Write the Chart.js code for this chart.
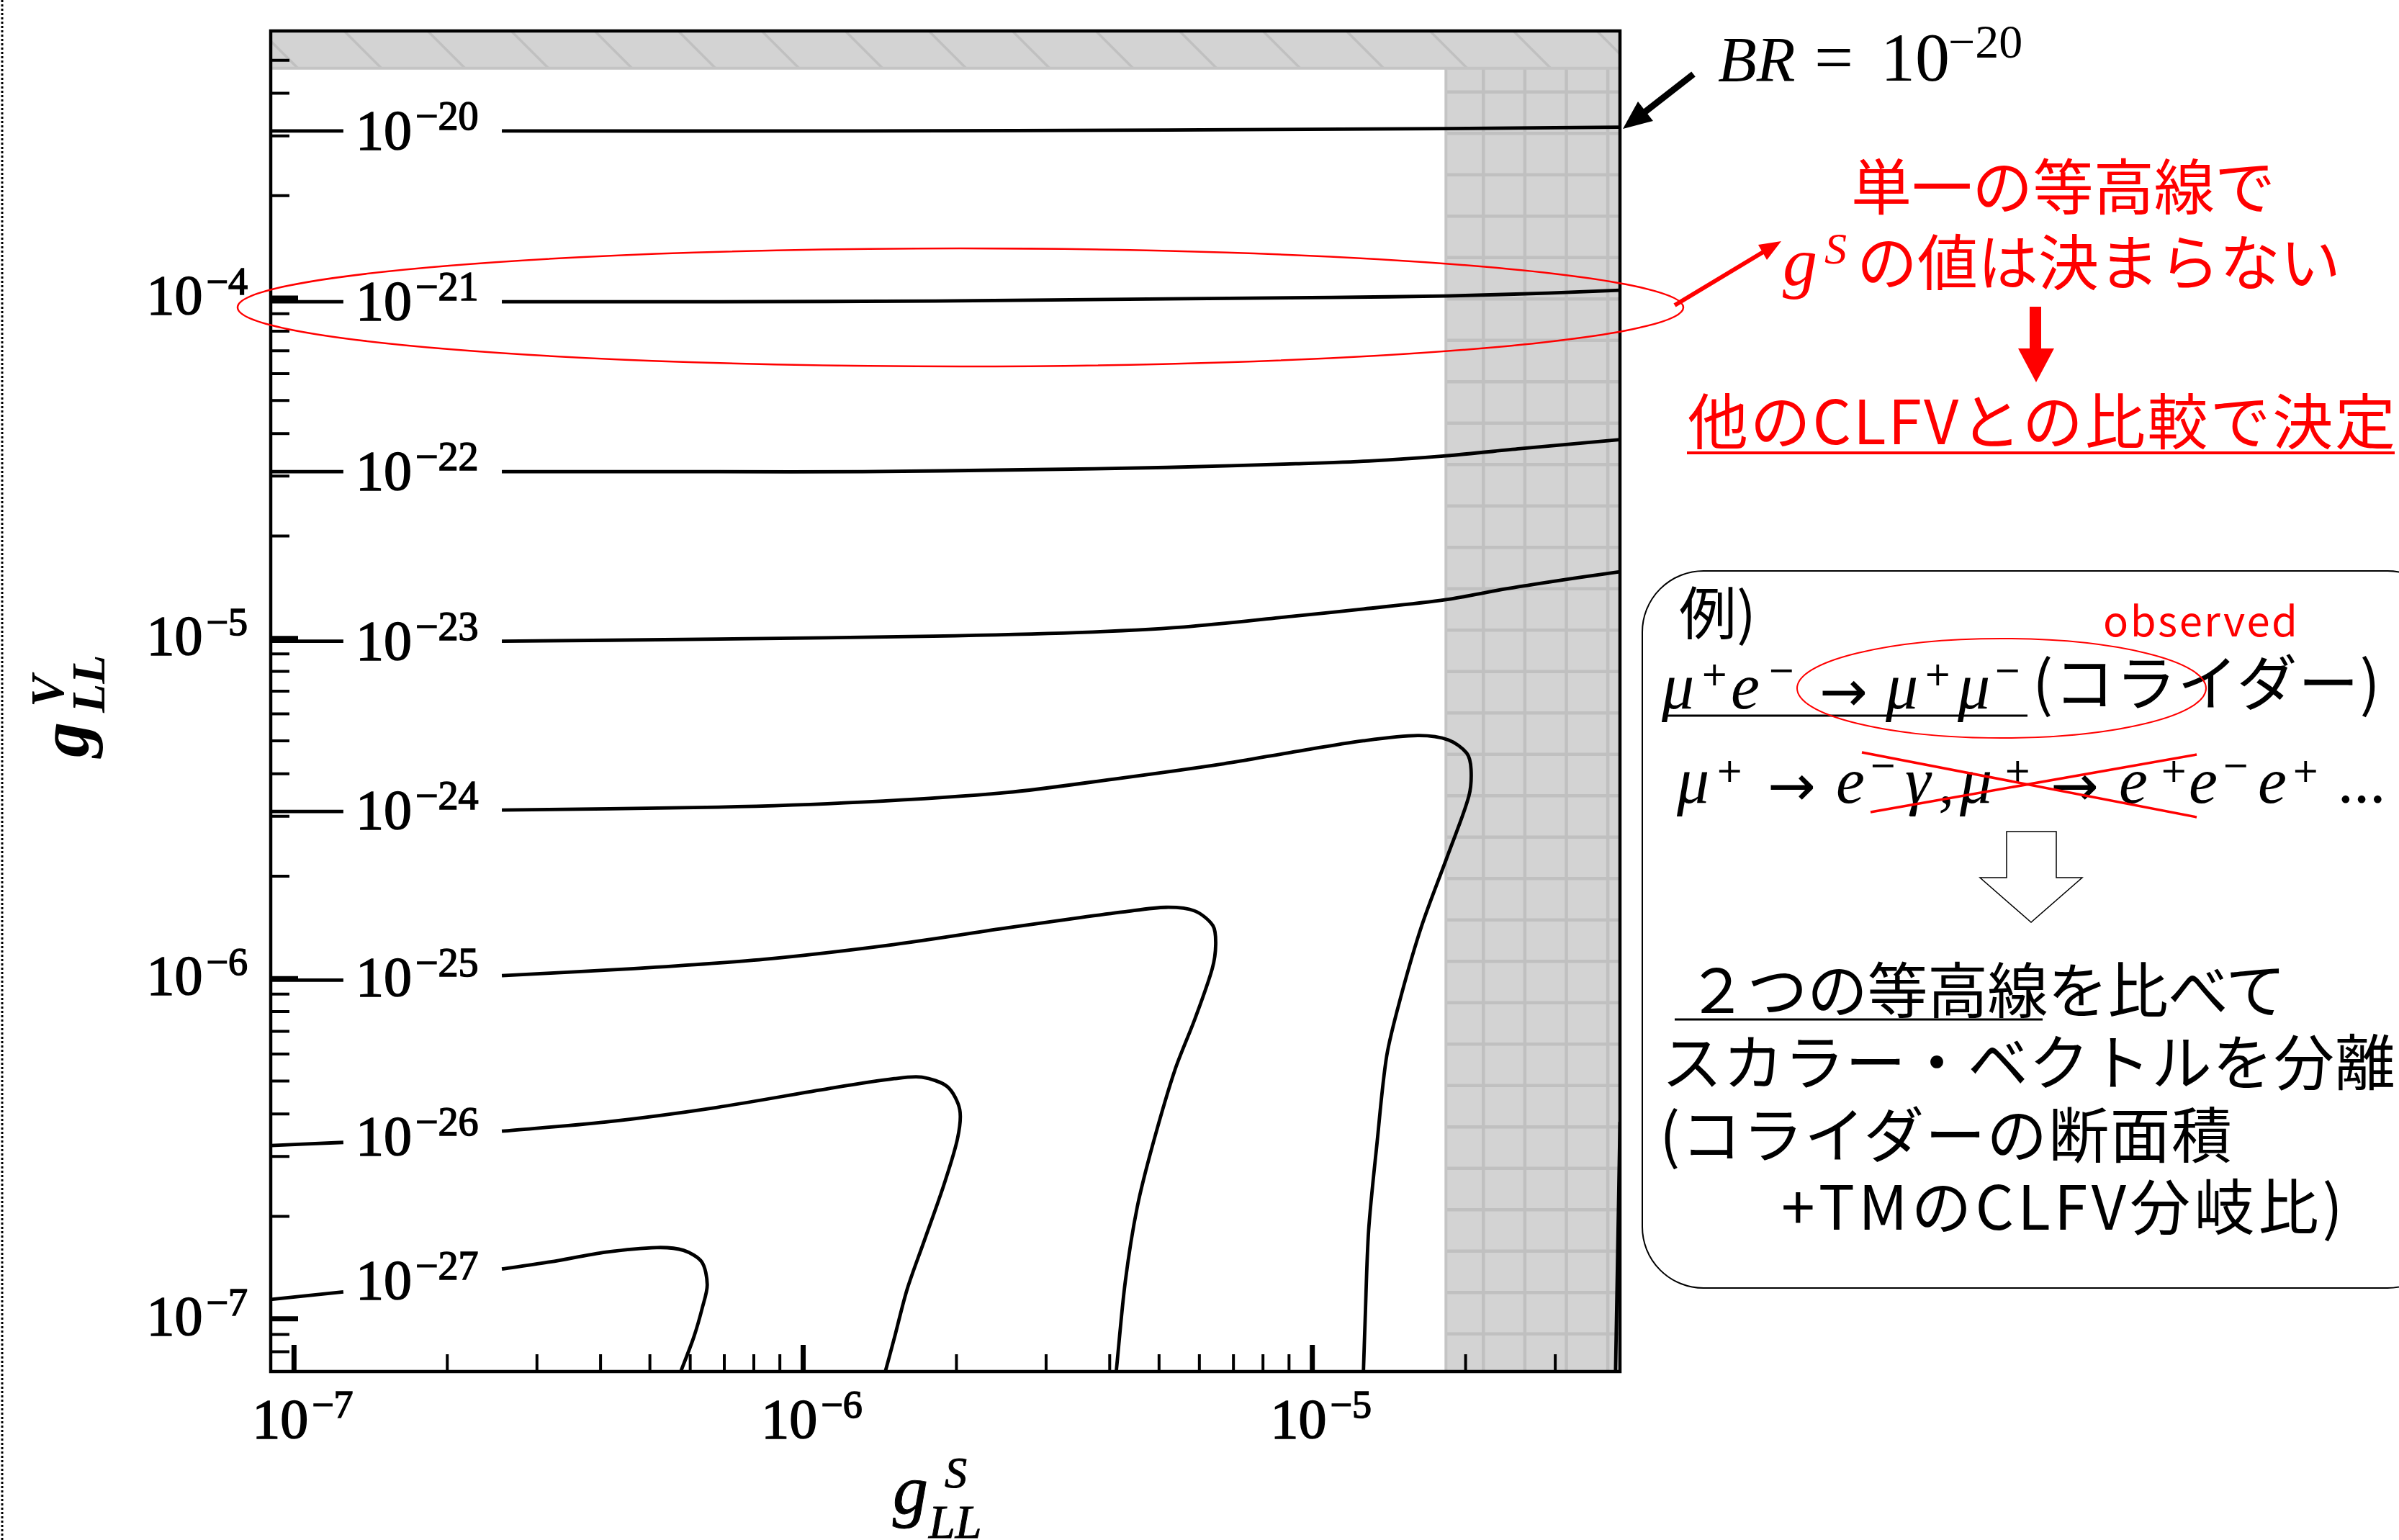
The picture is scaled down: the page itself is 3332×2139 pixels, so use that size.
<!DOCTYPE html>
<html lang="ja">
<head>
<meta charset="utf-8">
<title>BR contours: g_LL^S vs g_LL^V</title>
<script src="https://cdn.jsdelivr.net/npm/chart.js@4.4.1/dist/chart.umd.min.js"></script>
<style>
	html, body { margin: 0; padding: 0; background: #fff; }
	#stage { position: relative; width: 3332px; height: 2139px; overflow: hidden; background: #fff; }
	#chart, #notes { position: absolute; left: 0; top: 0; }
	.jp { font-family: 'Noto Sans CJK JP', sans-serif; }
	.mi { font-family: 'Liberation Serif', serif; font-style: italic; }
	.mr { font-family: 'Liberation Serif', serif; }
	.ms { font-family: 'DejaVu Sans', sans-serif; }
</style>
</head>
<body>
<div id="stage">
	<canvas id="chart" width="3332" height="2139"></canvas>
	<svg id="notes" width="3332" height="2139" viewBox="0 0 3332 2139" xmlns="http://www.w3.org/2000/svg">
		<line x1="3" y1="0" x2="3" y2="2139" stroke="#000" stroke-width="3" stroke-dasharray="3 3"/>

		<!-- ellipse round the 1e-21 contour -->
		<ellipse cx="1334" cy="427" rx="1004" ry="82" fill="none" stroke="#f00" stroke-width="2.5"/>

		<!-- BR = 10^-20 with arrow -->
		<line x1="2352" y1="103" x2="2284" y2="156" stroke="#000" stroke-width="9"/>
		<polygon points="2254,179 2296,168 2275,141" fill="#000"/>
		<text class="mi" x="2386" y="112" font-size="88">BR</text>
		<text class="mr" x="2520" y="112" font-size="96">=</text>
		<text class="mr" x="2612" y="112" font-size="96">10</text>
		<text class="mr" x="2706" y="80" font-size="66">−20</text>

		<!-- red remarks -->
		<line x1="2326" y1="424" x2="2449" y2="350" stroke="#f00" stroke-width="6"/>
		<polygon points="2474,335 2454,361 2442,340" fill="#f00"/>
		<text class="jp" x="2571" y="291" font-size="84" fill="#f00" textLength="589" lengthAdjust="spacing">単一の等高線で</text>
		<text class="mi" x="2476" y="396" font-size="96" fill="#f00">g</text>
		<text class="mi" x="2534" y="366" font-size="62" fill="#f00">S</text>
		<text class="jp" x="2579" y="396" font-size="84" fill="#f00" textLength="672" lengthAdjust="spacing">の値は決まらない</text>
		<rect x="2819" y="426" width="16" height="58" fill="#f00"/>
		<polygon points="2803,484 2853,484 2828,531" fill="#f00"/>
		<text class="jp" x="2344" y="617" font-size="84" fill="#f00" textLength="983" lengthAdjust="spacing">他のCLFVとの比較で決定</text>
		<line x1="2343" y1="629" x2="3326" y2="629" stroke="#f00" stroke-width="4"/>

		<!-- example box -->
		<rect x="2281" y="793" width="1120" height="996" rx="85" ry="85" fill="none" stroke="#000" stroke-width="2"/>
		<text class="jp" x="2332" y="881" font-size="80">例)</text>
		<text class="jp" x="2921" y="884" font-size="58" fill="#f00" textLength="270" lengthAdjust="spacing">observed</text>

		<text class="mi" x="2308" y="984" font-size="90">μ</text>
		<text class="ms" x="2362" y="952" font-size="46">+</text>
		<text class="mi" x="2404" y="984" font-size="90">e</text>
		<text class="ms" x="2455" y="946" font-size="46">−</text>
		<text class="ms" x="2527" y="988" font-size="80">→</text>
		<text class="mi" x="2619" y="984" font-size="90">μ</text>
		<text class="ms" x="2672" y="952" font-size="46">+</text>
		<text class="mi" x="2719" y="984" font-size="90">μ</text>
		<text class="ms" x="2769" y="946" font-size="46">−</text>
		<text class="jp" x="2823" y="980" font-size="84" textLength="483" lengthAdjust="spacing">(コライダー)</text>
		<line x1="2311" y1="994" x2="2816" y2="994" stroke="#000" stroke-width="3"/>
		<ellipse cx="2780" cy="956" rx="284" ry="69" fill="none" stroke="#f00" stroke-width="2"/>

		<text class="mi" x="2329" y="1115" font-size="90">μ</text>
		<text class="ms" x="2383" y="1086" font-size="46">+</text>
		<text class="ms" x="2455" y="1119" font-size="80">→</text>
		<text class="mi" x="2550" y="1115" font-size="90">e</text>
		<text class="ms" x="2596" y="1078" font-size="46">−</text>
		<text class="mi" x="2646" y="1115" font-size="90">γ</text>
		<text class="mr" x="2692" y="1115" font-size="90">,</text>
		<text class="mi" x="2722" y="1115" font-size="90">μ</text>
		<text class="ms" x="2783" y="1086" font-size="46">+</text>
		<text class="ms" x="2848" y="1119" font-size="80">→</text>
		<text class="mi" x="2943" y="1115" font-size="90">e</text>
		<text class="ms" x="3000" y="1086" font-size="46">+</text>
		<text class="mi" x="3040" y="1115" font-size="90">e</text>
		<text class="ms" x="3086" y="1078" font-size="46">−</text>
		<text class="mi" x="3136" y="1115" font-size="90">e</text>
		<text class="ms" x="3183" y="1086" font-size="46">+</text>
		<text class="mr" x="3247" y="1115" font-size="66" font-weight="bold">…</text>
		<line x1="2586" y1="1045" x2="3051" y2="1135" stroke="#f00" stroke-width="3.5"/>
		<line x1="2598" y1="1128" x2="3051" y2="1048" stroke="#f00" stroke-width="3.5"/>

		<polygon points="2787,1155 2856,1155 2856,1219 2892,1219 2821,1281 2750,1219 2787,1219" fill="#fff" stroke="#000" stroke-width="1.5"/>

		<text class="jp" x="2343" y="1407" font-size="84" textLength="832" lengthAdjust="spacing">２つの等高線を比べて</text>
		<line x1="2326" y1="1416" x2="2837" y2="1416" stroke="#000" stroke-width="3"/>
		<text class="jp" x="2308" y="1507" font-size="84" textLength="1019" lengthAdjust="spacing">スカラー・ベクトルを分離</text>
		<text class="jp" x="2305" y="1608" font-size="84" textLength="795" lengthAdjust="spacing">(コライダーの断面積</text>
		<text class="jp" x="2474" y="1708" font-size="84" textLength="780" lengthAdjust="spacing">+TMのCLFV分岐比)</text>
	</svg>
</div>
<script>
( function () {
	'use strict';

	// axis ranges (g_LL^S on x, g_LL^V on y)
	const X_MIN = 9e-8;
	const X_MAX = 4.02e-5;
	const Y_MIN = 7e-8;
	const Y_MAX = 6.1e-4;

	// excluded regions: grid band for g_S above S_LIMIT, hatched band for g_V above V_LIMIT
	const S_LIMIT = 1.83e-5;
	const V_LIMIT = 4.74e-4;

	const X_TICKS = [ 1e-7, 1e-6, 1e-5 ];
	const X_TICK_EXP = [ '−7', '−6', '−5' ];
	const Y_TICKS = [ 1e-7, 1e-6, 1e-5, 1e-4 ];
	const Y_TICK_EXP = [ '−7', '−6', '−5', '−4' ];
	const MINOR_MANTISSA = [ 2, 3, 4, 5, 6, 7, 8, 9 ];

	// contour lines of BR, [g_S, g_V]; null marks the gap left for the inline label
	const BR20 = [ [ 9e-8, 3.10e-4 ], [ 1.25e-7, 3.10e-4 ], null, [ 2.56e-7, 3.10e-4 ], [ 1.31e-6, 3.10e-4 ], [ 5.18e-6, 3.12e-4 ], [ 1.83e-5, 3.15e-4 ], [ 4.02e-5, 3.18e-4 ] ];
	const BR21 = [ [ 9e-8, 9.76e-5 ], [ 1.25e-7, 9.76e-5 ], null, [ 2.56e-7, 9.76e-5 ], [ 6.85e-7, 9.76e-5 ], [ 1.82e-6, 9.81e-5 ], [ 5.18e-6, 9.95e-5 ], [ 1.09e-5, 1.005e-4 ], [ 1.83e-5, 1.015e-4 ], [ 2.90e-5, 1.035e-4 ], [ 4.02e-5, 1.055e-4 ] ];
	const BR22 = [ [ 9e-8, 3.09e-5 ], [ 1.25e-7, 3.09e-5 ], null, [ 2.56e-7, 3.09e-5 ], [ 6.85e-7, 3.09e-5 ], [ 1.31e-6, 3.09e-5 ], [ 2.69e-6, 3.13e-5 ], [ 5.18e-6, 3.18e-5 ], [ 9.28e-6, 3.26e-5 ], [ 1.29e-5, 3.32e-5 ], [ 1.83e-5, 3.44e-5 ], [ 2.56e-5, 3.61e-5 ], [ 4.02e-5, 3.84e-5 ] ];
	const BR23 = [ [ 9e-8, 9.81e-6 ], [ 1.25e-7, 9.81e-6 ], null, [ 2.56e-7, 9.81e-6 ], [ 6.81e-7, 9.95e-6 ], [ 1.80e-6, 1.015e-5 ], [ 3.45e-6, 1.04e-5 ], [ 5.60e-6, 1.08e-5 ], [ 9.10e-6, 1.16e-5 ], [ 1.26e-5, 1.22e-5 ], [ 1.83e-5, 1.30e-5 ], [ 2.41e-5, 1.40e-5 ], [ 3.34e-5, 1.51e-5 ], [ 4.02e-5, 1.57e-5 ] ];
	const BR24 = [ [ 9e-8, 3.10e-6 ], [ 1.25e-7, 3.10e-6 ], null, [ 2.56e-7, 3.13e-6 ], [ 6.81e-7, 3.19e-6 ], [ 1.30e-6, 3.30e-6 ], [ 2.50e-6, 3.52e-6 ], [ 4.08e-6, 3.86e-6 ], [ 6.70e-6, 4.28e-6 ], [ 9.28e-6, 4.65e-6 ], [ 1.26e-5, 5.00e-6 ], [ 1.61e-5, 5.18e-6 ], [ 1.85e-5, 5.03e-6 ], [ 2.01e-5, 4.60e-6 ], [ 2.05e-5, 4.12e-6 ], [ 2.03e-5, 3.44e-6 ], [ 1.85e-5, 2.33e-6 ], [ 1.64e-5, 1.43e-6 ], [ 1.49e-5, 8.77e-7 ], [ 1.40e-5, 5.93e-7 ], [ 1.34e-5, 3.29e-7 ], [ 1.29e-5, 1.82e-7 ], [ 1.27e-5, 1.00e-7 ], [ 1.26e-5, 7.0e-8 ] ];
	const BR25 = [ [ 9e-8, 9.90e-7 ], [ 1.25e-7, 9.90e-7 ], null, [ 2.56e-7, 1.02e-6 ], [ 4.65e-7, 1.07e-6 ], [ 8.39e-7, 1.14e-6 ], [ 1.51e-6, 1.26e-6 ], [ 2.52e-6, 1.41e-6 ], [ 3.49e-6, 1.51e-6 ], [ 4.25e-6, 1.57e-6 ], [ 5.16e-6, 1.62e-6 ], [ 5.88e-6, 1.58e-6 ], [ 6.38e-6, 1.43e-6 ], [ 6.46e-6, 1.26e-6 ], [ 6.36e-6, 1.07e-6 ], [ 5.88e-6, 7.61e-7 ], [ 5.37e-6, 5.38e-7 ], [ 4.87e-6, 3.29e-7 ], [ 4.53e-6, 2.13e-7 ], [ 4.29e-6, 1.28e-7 ], [ 4.12e-6, 7.0e-8 ] ];
	const BR26 = [ [ 9e-8, 3.23e-7 ], [ 1.25e-7, 3.30e-7 ], null, [ 2.56e-7, 3.56e-7 ], [ 4.10e-7, 3.79e-7 ], [ 6.75e-7, 4.18e-7 ], [ 1.13e-6, 4.76e-7 ], [ 1.51e-6, 5.08e-7 ], [ 1.71e-6, 5.13e-7 ], [ 1.92e-6, 4.81e-7 ], [ 2.03e-6, 4.12e-7 ], [ 2.01e-6, 3.39e-7 ], [ 1.89e-6, 2.48e-7 ], [ 1.73e-6, 1.70e-7 ], [ 1.60e-6, 1.22e-7 ], [ 1.51e-6, 8.77e-8 ], [ 1.45e-6, 7.0e-8 ] ];
	const BR27 = [ [ 9e-8, 1.14e-7 ], [ 1.25e-7, 1.20e-7 ], null, [ 2.56e-7, 1.40e-7 ], [ 3.19e-7, 1.47e-7 ], [ 4.10e-7, 1.57e-7 ], [ 5.16e-7, 1.62e-7 ], [ 5.82e-7, 1.59e-7 ], [ 6.32e-7, 1.47e-7 ], [ 6.48e-7, 1.26e-7 ], [ 6.34e-7, 1.08e-7 ], [ 6.10e-7, 8.85e-8 ], [ 5.75e-7, 7.0e-8 ] ];
	const EDGE_BRANCH = [ [ 4.02e-5, 3.79e-7 ], [ 3.98e-5, 1.61e-7 ], [ 3.94e-5, 7.0e-8 ] ];

	const CONTOURS = [ BR20, BR21, BR22, BR23, BR24, BR25, BR26, BR27, EDGE_BRANCH ];
	const CONTOUR_EXP = [ '−20', '−21', '−22', '−23', '−24', '−25', '−26', '−27', '' ];

	const SERIF = '"Liberation Serif", "Times New Roman", serif';

	function toPoints( rows ) {
		let lastX = X_MIN;
		return rows.map( function ( row ) {
			if ( ! row ) {
				return { x: lastX, y: null };
			}
			lastX = row[ 0 ];
			return { x: row[ 0 ], y: row[ 1 ] };
		} );
	}

	// text with a thin outline, to get closer to the heavier TeX digits
	function heavyText( ctx, text, x, y ) {
		ctx.fillText( text, x, y );
		ctx.strokeText( text, x, y );
	}

	function drawPower( ctx, x, baseline, exp, bigPx, smallPx, raise ) {
		ctx.font = bigPx + 'px ' + SERIF;
		heavyText( ctx, '10', x, baseline );
		const w = ctx.measureText( '10' ).width;
		ctx.font = smallPx + 'px ' + SERIF;
		heavyText( ctx, exp, x + w + 5, baseline - raise );
	}

	function powerWidth( ctx, exp, bigPx, smallPx ) {
		ctx.font = bigPx + 'px ' + SERIF;
		const w = ctx.measureText( '10' ).width;
		ctx.font = smallPx + 'px ' + SERIF;
		return w + 5 + ctx.measureText( exp ).width;
	}

	function minorValues( min, max ) {
		const out = [];
		for ( let d = Math.floor( Math.log10( min ) ); d <= Math.ceil( Math.log10( max ) ); d++ ) {
			MINOR_MANTISSA.forEach( function ( m ) {
				const v = m * Math.pow( 10, d );
				if ( v > min * 1.02 && v < max * 0.98 ) {
					out.push( v );
				}
			} );
		}
		return out;
	}

	const bandsPlugin = {
		id: 'bands',
		beforeDatasetsDraw: function ( chart ) {
			const ctx = chart.ctx;
			const a = chart.chartArea;
			const sx = chart.scales.x.getPixelForValue( S_LIMIT );
			const vy = chart.scales.y.getPixelForValue( V_LIMIT );

			ctx.save();
			ctx.fillStyle = '#d3d3d3';
			ctx.fillRect( a.left, a.top, a.right - a.left, vy - a.top );
			ctx.fillRect( sx, vy, a.right - sx, a.bottom - vy );

			// diagonal hatch in the top band
			ctx.save();
			ctx.beginPath();
			ctx.rect( a.left, a.top, a.right - a.left, vy - a.top );
			ctx.clip();
			ctx.strokeStyle = '#c0c0c0';
			ctx.lineWidth = 3.5;
			ctx.beginPath();
			for ( let x0 = a.left + 102 - 116 * 2; x0 < a.right + 10; x0 += 116 ) {
				ctx.moveTo( x0, a.top );
				ctx.lineTo( x0 + ( vy - a.top ), vy );
			}
			ctx.stroke();
			ctx.restore();

			// square grid in the right band
			ctx.save();
			ctx.beginPath();
			ctx.rect( sx, vy, a.right - sx, a.bottom - vy );
			ctx.clip();
			ctx.strokeStyle = '#c0c0c0';
			ctx.lineWidth = 4.5;
			ctx.beginPath();
			for ( let gx = sx + 52; gx < a.right; gx += 57.6 ) {
				ctx.moveTo( gx, vy );
				ctx.lineTo( gx, a.bottom );
			}
			for ( let gy = vy + 33; gy < a.bottom; gy += 57.5 ) {
				ctx.moveTo( sx, gy );
				ctx.lineTo( a.right, gy );
			}
			ctx.stroke();
			ctx.restore();

			ctx.strokeStyle = '#c4c4c4';
			ctx.lineWidth = 4;
			ctx.beginPath();
			ctx.moveTo( a.left, vy );
			ctx.lineTo( a.right, vy );
			ctx.moveTo( sx, vy );
			ctx.lineTo( sx, a.bottom );
			ctx.stroke();
			ctx.restore();
		},
		afterDatasetsDraw: function ( chart ) {
			const ctx = chart.ctx;
			const a = chart.chartArea;
			const xs = chart.scales.x;
			const ys = chart.scales.y;

			ctx.save();
			ctx.fillStyle = '#000';
			ctx.strokeStyle = '#000';

			// frame
			ctx.lineWidth = 4.5;
			ctx.strokeRect( a.left, a.top, a.right - a.left, a.bottom - a.top );

			// ticks pointing inwards
			ctx.lineWidth = 4;
			ctx.beginPath();
			minorValues( X_MIN, X_MAX ).forEach( function ( v ) {
				const px = xs.getPixelForValue( v );
				ctx.moveTo( px, a.bottom );
				ctx.lineTo( px, a.bottom - 24 );
			} );
			minorValues( Y_MIN, Y_MAX ).forEach( function ( v ) {
				const py = ys.getPixelForValue( v );
				ctx.moveTo( a.left, py );
				ctx.lineTo( a.left + 26, py );
			} );
			ctx.stroke();

			ctx.lineWidth = 7;
			ctx.beginPath();
			X_TICKS.forEach( function ( v ) {
				const px = xs.getPixelForValue( v );
				ctx.moveTo( px, a.bottom );
				ctx.lineTo( px, a.bottom - 37 );
			} );
			Y_TICKS.forEach( function ( v ) {
				const py = ys.getPixelForValue( v );
				ctx.moveTo( a.left, py );
				ctx.lineTo( a.left + 38, py );
			} );
			ctx.stroke();

			// tick labels
			ctx.textBaseline = 'alphabetic';
			ctx.textAlign = 'left';
			ctx.lineWidth = 1.6;
			X_TICKS.forEach( function ( v, i ) {
				const px = xs.getPixelForValue( v );
				const w = powerWidth( ctx, X_TICK_EXP[ i ], 78, 54 );
				drawPower( ctx, px + 12 - w / 2, a.bottom + 92, X_TICK_EXP[ i ], 78, 54, 28 );
			} );
			Y_TICKS.forEach( function ( v, i ) {
				const py = ys.getPixelForValue( v );
				const w = powerWidth( ctx, Y_TICK_EXP[ i ], 78, 54 );
				drawPower( ctx, a.left - 32 - w, py + 22, Y_TICK_EXP[ i ], 78, 54, 27 );
			} );

			// inline contour labels, placed in the gap of each line
			chart.data.datasets.forEach( function ( ds, i ) {
				const k = ds.data.findIndex( function ( p ) {
					return p.y === null;
				} );
				if ( k < 1 || ! CONTOUR_EXP[ i ] ) {
					return;
				}
				const pts = chart.getDatasetMeta( i ).data;
				const prev = pts[ k - 1 ];
				const next = pts[ k + 1 ];
				const midY = ( prev.y + next.y ) / 2;
				drawPower( ctx, prev.x + 17, midY + 25, CONTOUR_EXP[ i ], 78, 56, 27 );
			} );

			// axis titles
			ctx.lineWidth = 1;
			ctx.font = 'italic 98px ' + SERIF;
			heavyText( ctx, 'g', 1240, a.bottom + 197 );
			ctx.font = 'italic 62px ' + SERIF;
			heavyText( ctx, 'S', 1312, a.bottom + 161 );
			ctx.font = 'italic 66px ' + SERIF;
			heavyText( ctx, 'LL', 1290, a.bottom + 231 );

			ctx.save();
			ctx.translate( 122, 1052 );
			ctx.rotate( -Math.PI / 2 );
			ctx.font = 'bold italic 98px ' + SERIF;
			ctx.fillText( 'g', 0, 0 );
			ctx.font = 'bold italic 66px ' + SERIF;
			ctx.fillText( 'V', 70, -34 );
			ctx.fillText( 'LL', 62, 23 );
			ctx.restore();

			ctx.restore();
		},
	};

	const datasets = CONTOURS.map( function ( rows ) {
		return {
			data: toPoints( rows ),
			showLine: true,
			borderColor: '#000',
			borderWidth: 4.8,
			pointRadius: 0,
			pointHoverRadius: 0,
			tension: 0.3,
			spanGaps: false,
			fill: false,
		};
	} );

	new Chart( document.getElementById( 'chart' ).getContext( '2d' ), {
		type: 'scatter',
		data: { datasets: datasets },
		options: {
			responsive: false,
			animation: false,
			devicePixelRatio: 1,
			layout: {
				padding: { left: 376, right: 1082, top: 43, bottom: 234 },
			},
			plugins: {
				legend: { display: false },
				tooltip: { enabled: false },
			},
			scales: {
				x: { type: 'logarithmic', min: X_MIN, max: X_MAX, display: false },
				y: { type: 'logarithmic', min: Y_MIN, max: Y_MAX, display: false },
			},
		},
		plugins: [ bandsPlugin ],
	} );
}() );
</script>
</body>
</html>
